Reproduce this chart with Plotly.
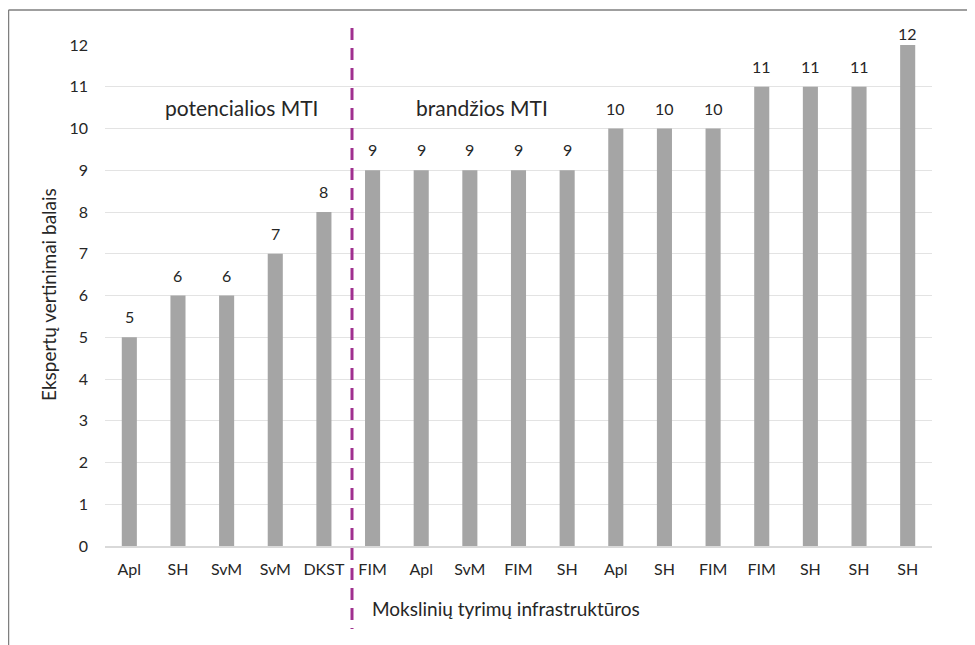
import plotly.graph_objects as go

categories = ["Apl", "SH", "SvM", "SvM", "DKST", "FIM", "Apl", "SvM", "FIM",
              "SH", "Apl", "SH", "FIM", "FIM", "SH", "SH", "SH"]
scores = [5, 6, 6, 7, 8, 9, 9, 9, 9, 9, 10, 10, 10, 11, 11, 11, 12]
y_ticks = list(range(0, 13))
group_labels = ["potencialios MTI", "brandžios MTI"]
x_title = "Mokslinių tyrimų infrastruktūros"
y_title = "Ekspertų vertinimai balais"

FONT = "Lato, 'Open Sans', sans-serif"
TXT = "#262626"
positions = list(range(len(categories)))
Y_MAX = 12

# page has an 8px body margin; figure is sized so the plot area lands where the reference has it
ML, MR, MT, MB = 97, 43, 37, 99
W, H = 967, 637
PW = W - ML - MR   # 827
PH = H - MT - MB   # 501
STEP = PW / len(categories)


def px_to_paper_x(page_x):
    return (page_x - 8 - ML) / PW


def px_to_paper_y(page_y):
    return (H - MB - (page_y - 8)) / PH


def px_to_data_x(page_x):
    return (page_x - 8 - ML) / STEP - 0.5


fig = go.Figure()
fig.add_trace(go.Bar(
    x=positions, y=scores,
    marker=dict(color="#A5A5A5", line=dict(width=0)),
    width=0.31,
    hoverinfo="skip",
))

# value labels above bars
for xp, v in zip(positions, scores):
    fig.add_annotation(x=xp, y=v, xref="x", yref="y",
                       xanchor="center", yanchor="bottom",
                       yshift=0 if v >= Y_MAX else 9,
                       text=str(v), showarrow=False,
                       font=dict(family=FONT, size=16, color=TXT))

fig.update_layout(
    width=W, height=H,
    margin=dict(l=ML, r=MR, t=MT, b=MB, autoexpand=False),
    paper_bgcolor="white", plot_bgcolor="white",
    showlegend=False,
    font=dict(family=FONT, size=16, color=TXT),
    xaxis=dict(
        range=[-0.5, len(categories) - 0.5],
        tickvals=positions, ticktext=categories,
        showgrid=False, zeroline=False,
        showline=True, linecolor="#D9D9D9", linewidth=1.5,
        ticks="", ticklabelstandoff=8,
        tickfont=dict(family=FONT, size=16, color=TXT),
        fixedrange=True,
    ),
    yaxis=dict(
        range=[0, Y_MAX], tickvals=y_ticks,
        showgrid=True, gridcolor="#E3E3E3", gridwidth=1,
        zeroline=False, showline=False,
        ticks="", ticklabelstandoff=16,
        tickfont=dict(family=FONT, size=16, color=TXT),
        fixedrange=True,
    ),
)

# group annotations
fig.add_annotation(x=px_to_data_x(241), y=10.5, xref="x", yref="y",
                   xanchor="center", yanchor="middle",
                   text=group_labels[0], showarrow=False,
                   font=dict(family=FONT, size=21, color=TXT))
fig.add_annotation(x=px_to_data_x(482), y=10.5, xref="x", yref="y",
                   xanchor="center", yanchor="middle",
                   text=group_labels[1], showarrow=False,
                   font=dict(family=FONT, size=21, color=TXT))

# axis titles
fig.add_annotation(x=px_to_paper_x(48), y=px_to_paper_y(295), xref="paper", yref="paper",
                   xanchor="center", yanchor="middle",
                   text=y_title, textangle=-90, showarrow=False,
                   font=dict(family=FONT, size=19, color=TXT))
fig.add_annotation(x=px_to_paper_x(506), y=px_to_paper_y(608), xref="paper", yref="paper",
                   xanchor="center", yanchor="middle",
                   text=x_title, showarrow=False,
                   font=dict(family=FONT, size=19, color=TXT))

# dashed divider
fig.add_shape(type="line", xref="x", yref="paper",
              x0=px_to_data_x(352), x1=px_to_data_x(352),
              y0=px_to_paper_y(28), y1=px_to_paper_y(629),
              line=dict(color="#A0308F", width=3, dash="12px,8px"))

# outer frame (partially visible)
fig.add_shape(type="line", xref="paper", yref="paper",
              x0=px_to_paper_x(8.5), x1=px_to_paper_x(8.5),
              y0=px_to_paper_y(10), y1=px_to_paper_y(700),
              line=dict(color="#7F7F7F", width=1.5))
fig.add_shape(type="line", xref="paper", yref="paper",
              x0=px_to_paper_x(8.5), x1=px_to_paper_x(1000),
              y0=px_to_paper_y(10), y1=px_to_paper_y(10),
              line=dict(color="#7F7F7F", width=1.5))

fig.write_html("out.html")
